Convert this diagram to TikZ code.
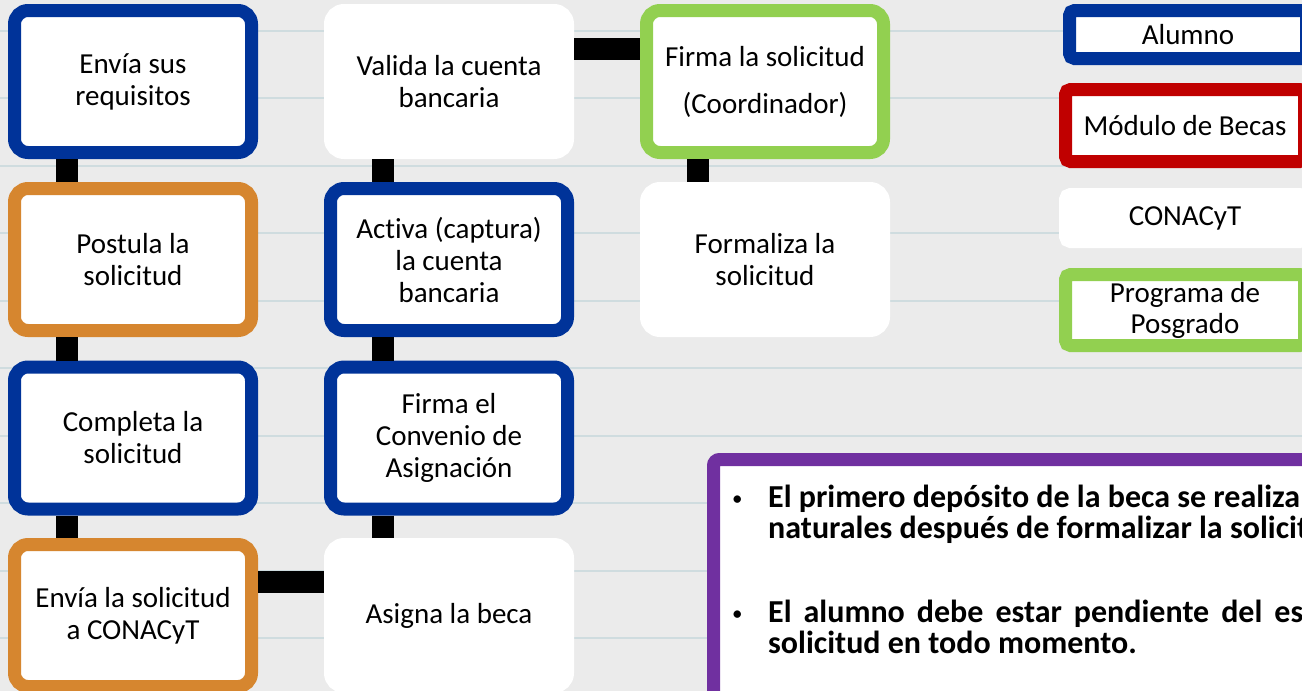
\documentclass[tikz,border=0pt]{standalone}
\usepackage{fontspec}
\setmainfont{Carlito}[Ligatures=NoCommon]
\definecolor{bgc}{HTML}{EBEBEB}
\definecolor{linec}{HTML}{CFDCDF}
\definecolor{blu}{HTML}{003399}
\definecolor{ora}{HTML}{D6862F}
\definecolor{grn}{HTML}{92D050}
\definecolor{redc}{HTML}{C00000}
\definecolor{pur}{HTML}{7030A0}
\tikzset{
  box/.style={rounded corners=13.5pt, line width=13pt, fill=white,
    minimum width=237pt, minimum height=142pt, align=center, inner sep=0pt,
    font=\fontsize{29}{32}\selectfont},
  bluebox/.style={box, draw=blu},
  orabox/.style={box, draw=ora},
  grnbox/.style={box, draw=grn},
  whitebox/.style={box, draw=white},
  legbox/.style={rounded corners=5pt, line width=13pt, fill=white,
    minimum width=239pt, align=center, inner sep=0pt,
    font=\fontsize{29}{31}\selectfont},
  conn/.style={line width=22pt, draw=black},
  note/.style={anchor=base west, inner sep=0pt, font=\bfseries\fontsize{32}{33}\selectfont},
  bul/.style={anchor=base west, inner sep=0pt, font=\fontsize{21}{22}\selectfont},
}
\begin{document}
\begin{tikzpicture}[x=1pt,y=-1pt]
\useasboundingbox (0,0) rectangle (1302,691);
\fill[bgc] (0,0) rectangle (1302,691);
\foreach \k in {0,...,9}
  \draw[linec, line width=2pt] (0,{30.5+67.5*\k}) -- (1302,{30.5+67.5*\k});

% column 1
\node[bluebox] (a1) at (133,81.5) {Envía sus\\requisitos};
\node[orabox]  (a2) at (133,259.5) {Postula la\\solicitud};
\node[bluebox] (a3) at (133,438) {Completa la\\solicitud};
\node[orabox]  (a4) at (133,615.5) {Envía la solicitud\\a CONACyT};
% column 2
\node[whitebox] (b1) at (449,81.5) {Valida la cuenta\\bancaria};
\node[bluebox]  (b2) at (449,259.5) {Activa (captura)\\la cuenta\\bancaria};
\node[bluebox]  (b3) at (449,438) {Firma el\\Convenio de\\Asignación};
\node[whitebox] (b4) at (449,615.5) {Asigna la beca};
% column 3
\node[grnbox]   (c1) at (765,81.5) {Firma la solicitud\\[15pt](Coordinador)};
\node[whitebox] (c2) at (765,259.5) {Formaliza la\\solicitud};

% connectors
\draw[conn] ([xshift=-66pt]a1.south) -- ([xshift=-66pt]a2.north);
\draw[conn] ([xshift=-66pt]a2.south) -- ([xshift=-66pt]a3.north);
\draw[conn] ([xshift=-66pt]a3.south) -- ([xshift=-66pt]a4.north);
\draw[conn] ([xshift=-66pt]b1.south) -- ([xshift=-66pt]b2.north);
\draw[conn] ([xshift=-66pt]b2.south) -- ([xshift=-66pt]b3.north);
\draw[conn] ([xshift=-66pt]b3.south) -- ([xshift=-66pt]b4.north);
\draw[conn] ([xshift=-67pt]c1.south) -- ([xshift=-67pt]c2.north);
\draw[conn] ([yshift=32.5pt]b1.east) -- ([yshift=32.5pt]c1.west);
\draw[conn] ([yshift=33.5pt]a4.east) -- ([yshift=33.5pt]b4.west);

% legend
\node[legbox, draw=blu, minimum width=237pt, minimum height=48pt] (l1) at (1188,34.5) {Alumno};
\node[legbox, draw=redc, minimum height=72pt] (l2) at (1185,125.5) {Módulo de Becas};
\node[legbox, draw=white, minimum height=47pt] (l3) at (1185,218) {CONACyT};
\node[legbox, draw=grn, minimum height=71pt] (l4) at (1185,310) {Programa de\\Posgrado};

% note box
\draw[pur, line width=13pt, fill=white, rounded corners=6pt] (713.5,459.5) rectangle (1380,760);
\node[bul] (u1) at (732,505) {•};
\node[note] (t1) at (768,507) {El primero depósito de la beca se realiza};
\node[note] (t2) at (768,538) {naturales después de formalizar la solicit};
\node[bul] (u2) at (732,620) {•};
\node[note] (t3) at (768,622) {\makebox[535pt][s]{El alumno debe estar pendiente del es}};
\node[note] (t4) at (768,653) {solicitud en todo momento.};
\end{tikzpicture}
\end{document}
